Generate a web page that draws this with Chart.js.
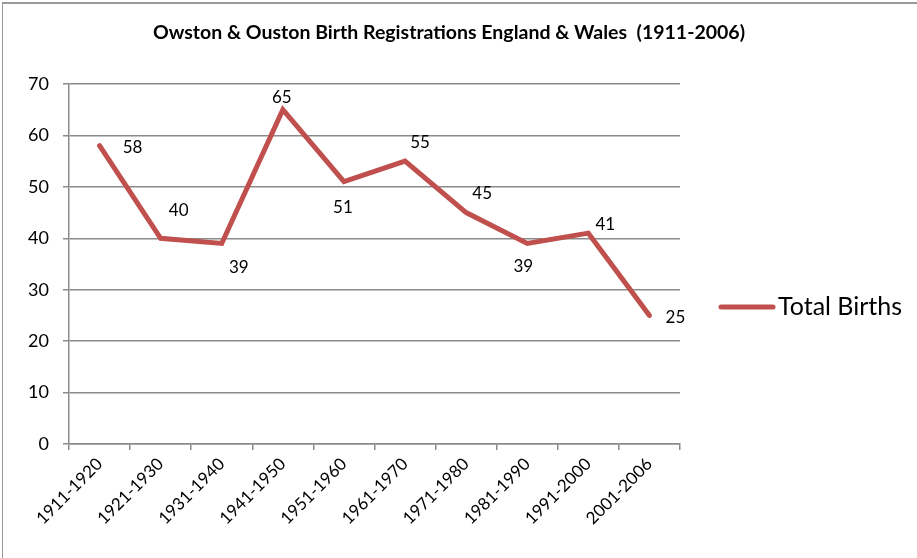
<!DOCTYPE html>
<html>
<head>
<meta charset="utf-8">
<script src="https://cdn.jsdelivr.net/npm/chart.js@4"></script>
<style>
  body { margin: 0; background: #fff; }
  #wrap { position: relative; width: 917px; height: 558px; }
  #frame { position: absolute; left: 2px; top: 2px; width: 930px; height: 570px;
           border-top: 2px solid #9a9a9a; border-left: 1px solid #9a9a9a; }
  canvas { position: absolute; left: 0; top: 0; }
</style>
</head>
<body>
<div id="wrap">
  <div id="frame"></div>
  <canvas id="births" width="917" height="558"></canvas>
</div>
<script>
const decades = ['1911-1920', '1921-1930', '1931-1940', '1941-1950', '1951-1960',
                 '1961-1970', '1971-1980', '1981-1990', '1991-2000', '2001-2006'];
const totalBirths = [58, 40, 39, 65, 51, 55, 45, 39, 41, 25];
const yTicks = [0, 10, 20, 30, 40, 50, 60, 70];

// where each value label sits relative to its point (px)
const labelOffsets = [[33, 2], [18, -28], [17, 24], [-1, -12], [-1, 26],
                      [15, -19], [16, -19], [-4, 23], [17, -9], [26, 2]];

const chartTitle = 'Owston & Ouston Birth Registrations England & Wales  (1911-2006)';
const lineColor = '#C0504D';
const fontFamily = 'Lato, "Open Sans", sans-serif';

const valueLabels = {
    id: 'valueLabels',
    afterDatasetsDraw(chart) {
        const ctx = chart.ctx;
        const meta = chart.getDatasetMeta(0);
        ctx.save();
        ctx.font = '17px ' + fontFamily;
        ctx.fillStyle = '#000';
        ctx.textAlign = 'center';
        ctx.textBaseline = 'middle';
        meta.data.forEach((pt, i) => {
            ctx.fillText(String(totalBirths[i]), pt.x + labelOffsets[i][0], pt.y + labelOffsets[i][1]);
        });
        ctx.restore();
    }
};

// title centred on the whole picture and the legend on the right
const extras = {
    id: 'extras',
    afterDraw(chart) {
        const ctx = chart.ctx;
        ctx.save();
        ctx.font = 'bold 19.5px ' + fontFamily;
        ctx.fillStyle = '#000';
        ctx.textAlign = 'center';
        ctx.textBaseline = 'middle';
        ctx.fillText(chartTitle, 449, 33);

        const y = 307;
        ctx.strokeStyle = lineColor;
        ctx.lineWidth = 5;
        ctx.lineCap = 'round';
        ctx.beginPath();
        ctx.moveTo(721, y);
        ctx.lineTo(773, y);
        ctx.stroke();
        ctx.font = '25px ' + fontFamily;
        ctx.textAlign = 'left';
        ctx.fillText('Total Births', 778, y);
        ctx.restore();
    }
};

new Chart(document.getElementById('births'), {
    type: 'line',
    data: {
        labels: decades,
        datasets: [{
            label: 'Total Births',
            data: totalBirths,
            borderColor: lineColor,
            borderWidth: 5,
            pointRadius: 0,
            tension: 0,
            fill: false,
            borderJoinStyle: 'miter',
            borderCapStyle: 'round'
        }]
    },
    options: {
        responsive: false,
        animation: false,
        layout: { padding: { left: 0, right: 237, top: 84, bottom: 0 } },
        plugins: {
            legend: { display: false },
            tooltip: { enabled: false },
            title: { display: false }
        },
        scales: {
            x: {
                offset: true,
                afterFit(scale) { scale.height = 114; },
                grid: {
                    offset: true,
                    drawOnChartArea: false,
                    drawTicks: true,
                    tickLength: 6,
                    color: '#8a8a8a',
                    lineWidth: 1.5
                },
                border: { color: '#8a8a8a', width: 1.5 },
                ticks: {
                    color: '#000',
                    minRotation: 45,
                    maxRotation: 45,
                    font: { family: fontFamily, size: 17 },
                    padding: 4
                }
            },
            y: {
                min: 0,
                max: 70,
                afterFit(scale) { scale.width = 69; },
                afterBuildTicks(scale) { scale.ticks = yTicks.map(v => ({ value: v })); },
                grid: {
                    color: '#8a8a8a',
                    lineWidth: 1.5,
                    tickLength: 6
                },
                border: { color: '#8a8a8a', width: 1.5 },
                ticks: {
                    color: '#000',
                    font: { family: fontFamily, size: 18 },
                    padding: 14
                }
            }
        }
    },
    plugins: [valueLabels, extras]
});
</script>
</body>
</html>
